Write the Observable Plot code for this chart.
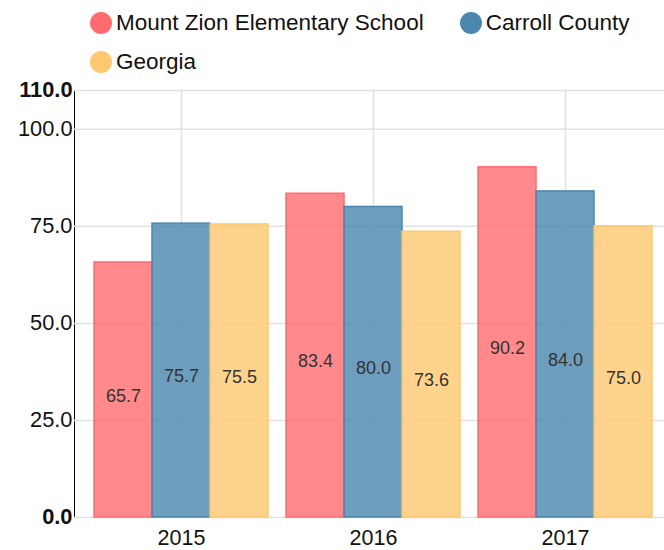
<!DOCTYPE html>
<html>
<head>
<meta charset="utf-8">
<script src="https://cdn.jsdelivr.net/npm/d3@7"></script>
<script src="https://cdn.jsdelivr.net/npm/@observablehq/plot@0.6"></script>
<style>
  html, body { margin: 0; padding: 0; background: #fff; }
  body { width: 664px; height: 550px; overflow: hidden; font-family: "Liberation Sans", Arial, sans-serif; }
  #legend { box-sizing: border-box; height: 80px; padding: 9px 0 0 90px; display: flex; flex-wrap: wrap; column-gap: 36px; row-gap: 11px; width: 664px; align-content: flex-start; }
  .item { display: flex; align-items: center; height: 28px; font-size: 22.5px; color: #111; }
  .dot { width: 22px; height: 22px; border-radius: 50%; margin-right: 4px; }
</style>
</head>
<body>
<div id="legend"></div>
<div id="chart"></div>
<script>
const years = ["2015", "2016", "2017"];
const seriesNames = ["Mount Zion Elementary School", "Carroll County", "Georgia"];
const mountZion = [65.7, 83.4, 90.2];
const carrollCounty = [75.7, 80.0, 84.0];
const georgia = [75.5, 73.6, 75.0];
const seriesColors = ["#ff6b6e", "#4a86ae", "#ffc86e"];
const yTicks = [0, 25, 50, 75, 100, 110];

const seriesValues = [mountZion, carrollCounty, georgia];
const data = [];
seriesNames.forEach((s, si) => years.forEach((y, yi) => data.push({series: s, si, year: y, value: seriesValues[si][yi]})));

// legend
const legend = document.getElementById("legend");
seriesNames.forEach((s, i) => {
  const it = document.createElement("div");
  it.className = "item";
  it.innerHTML = `<span class="dot" style="background:${seriesColors[i]}"></span><span>${s}</span>`;
  legend.appendChild(it);
});

const base = {
  width: 664,
  height: 470,
  marginLeft: 74,
  marginRight: 0,
  marginTop: 10,
  marginBottom: 33,
  style: {fontFamily: "Liberation Sans, Arial, sans-serif", background: "transparent", overflow: "visible"},
  x: {type: "band", domain: years, paddingInner: 0.093, paddingOuter: 0.075, align: 0.62,
      tickSize: 0, tickPadding: 12, label: null},
  y: {domain: [0, 110], ticks: yTicks, tickFormat: d3.format(".1f"), tickSize: 0, tickPadding: 2, line: true, label: null}
};

const probe = Plot.plot({...base, marks: [Plot.barY(data, {x: "year", y: "value"})]});
const w = probe.scale("x").bandwidth / 3;

const marks = [
  Plot.gridY(yTicks, {stroke: "#e2e2e2", strokeOpacity: 1, strokeWidth: 1.5}),
  Plot.gridX(years, {stroke: "#e2e2e2", strokeOpacity: 1, strokeWidth: 1.5})
];
seriesNames.forEach((s, si) => {
  const d = data.filter(r => r.series === s);
  marks.push(Plot.barY(d, {
    x: "year", y: "value",
    fill: seriesColors[si], fillOpacity: 0.8,
    stroke: seriesColors[si], strokeWidth: 1.5,
    insetLeft: si * w, insetRight: (2 - si) * w
  }));
});
seriesNames.forEach((s, si) => {
  const d = data.filter(r => r.series === s);
  marks.push(Plot.text(d, {
    x: "year", y: r => r.value / 2, text: r => r.value.toFixed(1),
    dx: (si - 1) * w, dy: 6, fontSize: 18, fill: "#333"
  }));
});

const chart = Plot.plot({...base, marks});
const sel = d3.select(chart);
sel.selectAll("g[aria-label='y-axis tick label']").attr("fill", "#111").attr("font-size", 21.8)
  .selectAll("text").style("font-size", "21.8px");
sel.selectAll("g[aria-label='y-axis tick label'] text")
  .filter(function() { const t = this.textContent; return t === "0.0" || t === "110.0"; })
  .attr("font-weight", "bold");
sel.selectAll("g[aria-label='x-axis tick label']").attr("fill", "#111").attr("font-size", 21.5)
  .selectAll("text").style("font-size", "21.5px");
sel.selectAll("g[aria-label='y-axis line'], g[aria-label='y-axis line'] *").attr("stroke", "#000").attr("stroke-width", 1.5);
document.getElementById("chart").appendChild(chart);
</script>
</body>
</html>
